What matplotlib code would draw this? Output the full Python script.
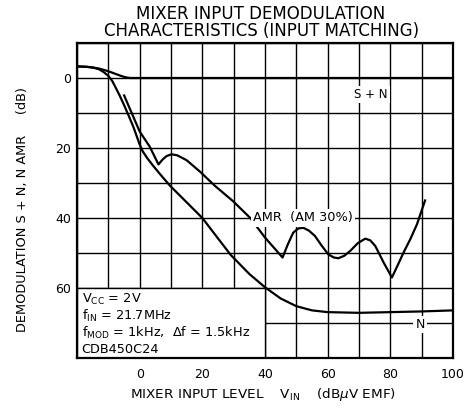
import matplotlib
matplotlib.use("Agg")
import matplotlib.pyplot as plt
from matplotlib.patches import Rectangle

plt.rcParams['font.family'] = ['DejaVu Sans']
plt.rcParams['mathtext.fontset'] = 'dejavusans'

# curve points, input level (dBuV EMF) vs demodulation (dB)
sn_x = [-20, -17, -15, -13, -11, -9, -7.5, -6, -4.5, -3, 100]
sn_y = [-3.3, -3.2, -3.0, -2.7, -2.2, -1.6, -1.1, -0.6, -0.2, 0, 0]

n_x = [-20, -17, -15, -13, -11.5, -10, -8.8, -7.8, -6.5, -5.1, -3.5, -2, -1, 0,
       1, 2.5, 4.4, 7, 9.6, 20, 29, 35, 40, 45, 50, 55, 60, 70, 80, 90, 100]
n_y = [-3.3, -3.2, -3.0, -2.5, -1.7, -0.6, 0.8, 2.5, 4.8, 7.5, 10.8, 14.0, 16.5, 19.0,
       21.0, 23.0, 25.2, 28.0, 30.7, 40, 50.5, 56, 59.8, 63, 65.2, 66.4, 66.9, 67.1,
       66.9, 66.7, 66.4]

amr_x = [-5.1, 0, 3.2, 6, 7.3, 8.6, 10.2, 12, 15, 19.3, 24, 29.8, 35.3, 40,
         45.6, 47.3, 49, 50.6, 52.2, 54, 55.9, 58, 60.2, 62, 63.4, 65.3,
         67.2, 69.6, 72, 73.6, 75.2, 77.9, 80.5, 82.3, 84.2, 86.4, 88.5, 91.2]
amr_y = [4.7, 15.3, 19.6, 24.7, 23.3, 22.3, 21.8, 22.1, 23.5, 26.8, 30.8, 35.2, 40, 45.6,
         51.3, 47.5, 44.2, 43.0, 42.8, 43.6, 45.1, 47.8, 50.4, 51.3, 51.5, 50.8,
         49.4, 47.2, 45.9, 46.4, 48, 52.8, 57, 53.6, 49.9, 46.0, 41.8, 34.7]

box_lines = [r'V$_{\rm CC}$ = 2V',
             r'f$_{\rm IN}$ = 21.7MHz',
             r'f$_{\rm MOD}$ = 1kHz,  $\Delta$f = 1.5kHz',
             'CDB450C24']

fig = plt.figure(figsize=(4.69, 4.11), dpi=100)
ax = fig.add_axes([0.1642, 0.129, 0.8017, 0.7664])

ax.set_xlim(-20, 100)
ax.set_ylim(80, -10)
ax.set_xticks(range(-20, 101, 10))
ax.set_yticks(range(-10, 81, 10))
ax.set_xticklabels(['' if v % 20 or v < 0 else str(v) for v in range(-20, 101, 10)])
ax.set_yticklabels([str(v) if v in (0, 20, 40, 60) else '' for v in range(-10, 81, 10)])
ax.tick_params(length=0, labelsize=9, pad=4)
ax.tick_params(axis='x', pad=7)
ax.grid(True, color='black', linewidth=1.0)
ax.set_axisbelow(True)
for s in ax.spines.values():
    s.set_linewidth(1.6)

# condition box in the lower left corner
ax.add_patch(Rectangle((-20, 60), 60, 20, facecolor='white', edgecolor='black',
                       linewidth=1.0, zorder=2))
for i, t in enumerate(box_lines):
    ax.text(-18.5, 63.3 + i * 4.8, t, fontsize=9.3, va='center', ha='left', zorder=5)

ax.plot(sn_x, sn_y, color='black', linewidth=1.6, zorder=3, solid_capstyle='butt')
ax.plot(n_x, n_y, color='black', linewidth=1.6, zorder=3, solid_capstyle='butt')
ax.plot(amr_x, amr_y, color='black', linewidth=1.6, zorder=3, solid_capstyle='butt')

lbl = dict(va='center', zorder=4,
           bbox=dict(facecolor='white', edgecolor='none', pad=1.5))
ax.text(73.8, 4.7, 'S + N', ha='center', fontsize=8.5, **lbl)
ax.text(36.3, 40, 'AMR  (AM 30%)', ha='left', fontsize=9.3, **lbl)
ax.text(89.5, 70.5, 'N', ha='center', fontsize=9, **lbl)

fig.text(0.556, 0.966, 'MIXER INPUT DEMODULATION', ha='center', va='center', fontsize=12)
fig.text(0.558, 0.925, 'CHARACTERISTICS (INPUT MATCHING)', ha='center', va='center',
         fontsize=12)
fig.text(0.049, 0.491, 'DEMODULATION S + N, N AMR     (dB)', rotation=90,
         ha='center', va='center', fontsize=9.3)
fig.text(0.561, 0.039, r'MIXER INPUT LEVEL    V$_{\rm IN}$    (dB$\mu$V EMF)',
         ha='center', va='center', fontsize=9.7)

fig.savefig('out.png', dpi=100)
